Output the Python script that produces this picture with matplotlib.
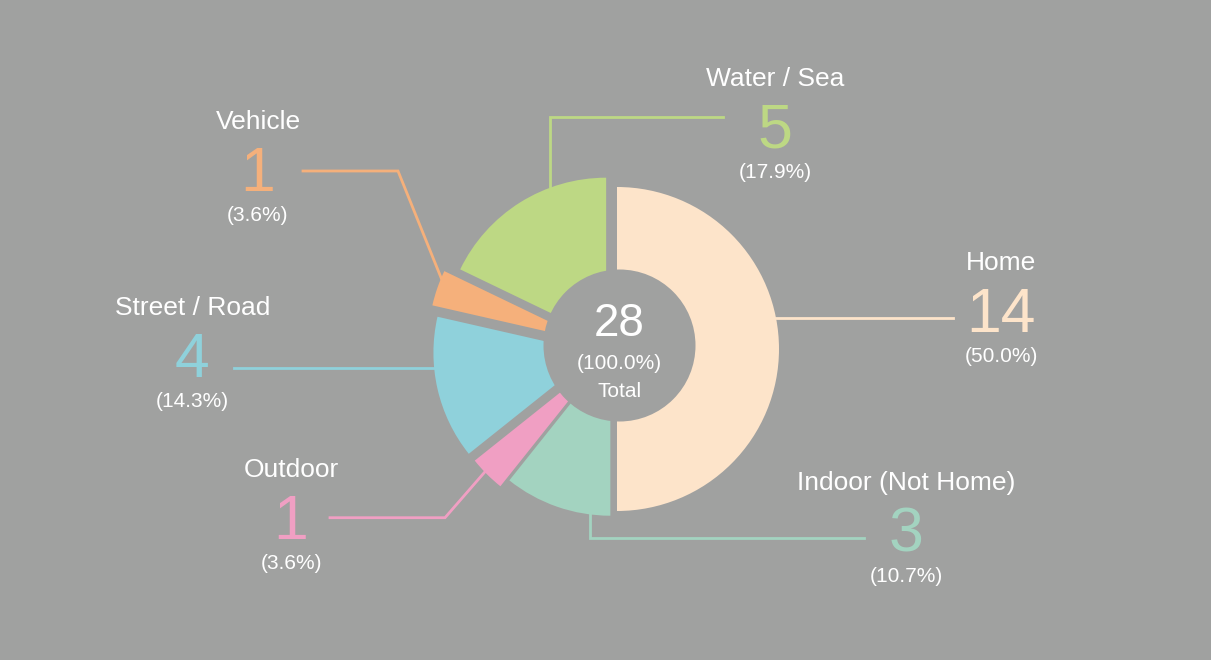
import matplotlib
matplotlib.use("Agg")
import matplotlib.pyplot as plt
from matplotlib.patches import Circle

# data
categories = ["Home", "Indoor (Not Home)", "Outdoor", "Street / Road", "Vehicle", "Water / Sea"]
counts = [14, 3, 1, 4, 1, 5]
colors = ["#fde4ca", "#a3d3c0", "#f09fc3", "#8fd1db", "#f5b07b", "#bdd884"]
total_label = "Total"

BG = "#a0a1a0"
W, H = 1211, 660
plt.rcParams["font.family"] = ["Liberation Sans", "DejaVu Sans"]


def sy(y):
    # measured from the top of the picture -> data y
    return H - y


# pie geometry in pixels
center = (612, sy(349))
radius = 162
explode_px = [5, 5, 15, 17, 23, 11]   # pie offsets these in data units
hole_center = (619.5, sy(345.5))
hole_radius = 76

# label layout: x centre and name baseline (from top)
label_pos = {
    "Home": (1001, 270),
    "Indoor (Not Home)": (906, 490),
    "Outdoor": (291, 477),
    "Street / Road": (192.5, 315),
    "Vehicle": (258, 129),
    "Water / Sea": (775, 86),
}
leaders = {
    "Home": [(953, 318.3), (770, 318.3)],
    "Indoor (Not Home)": [(864, 538.3), (590, 538.3), (590, 505)],
    "Outdoor": [(330, 517.7), (445, 517.7), (490, 466)],
    "Street / Road": [(234, 368.3), (445, 368.3)],
    "Vehicle": [(303, 171), (398, 171), (446, 290)],
    "Water / Sea": [(723, 116.7), (550, 116.7), (550, 195)],
}

fig = plt.figure(figsize=(W / 100, H / 100), dpi=100, facecolor=BG)
ax = fig.add_axes([0, 0, 1, 1])
ax.set_facecolor(BG)

ax.pie(counts, colors=colors, startangle=90, counterclock=False,
       center=center, radius=radius, explode=explode_px,
       wedgeprops=dict(linewidth=0, zorder=3))

ax.add_patch(Circle(hole_center, hole_radius, facecolor=BG, edgecolor="none", zorder=4))

total = sum(counts)
for name, n, col in zip(categories, counts, colors):
    x, yb = label_pos[name]
    ax.text(x, sy(yb), name, color="white", fontsize=19, ha="center", va="baseline")
    ax.text(x, sy(yb + 62), str(n), color=col, fontsize=45, ha="center", va="baseline")
    ax.text(x, sy(yb + 92), f"({n / total * 100:.1f}%)", color="white", fontsize=15,
            ha="center", va="baseline")
    pts = leaders[name]
    ax.plot([p[0] for p in pts], [sy(p[1]) for p in pts], color=col, lw=2,
            solid_joinstyle="miter", zorder=2)

# centre text
cx = hole_center[0]
ax.text(cx, sy(336), str(total), color="white", fontsize=33, ha="center", va="baseline", zorder=5)
ax.text(cx, sy(369.3), "(100.0%)", color="white", fontsize=15, ha="center", va="baseline", zorder=5)
ax.text(cx, sy(397.3), total_label, color="white", fontsize=15, ha="center", va="baseline", zorder=5)

ax.set_xlim(0, W)
ax.set_ylim(0, H)
ax.set_aspect("auto")
ax.axis("off")

fig.savefig("out.png", dpi=100, facecolor=BG)
